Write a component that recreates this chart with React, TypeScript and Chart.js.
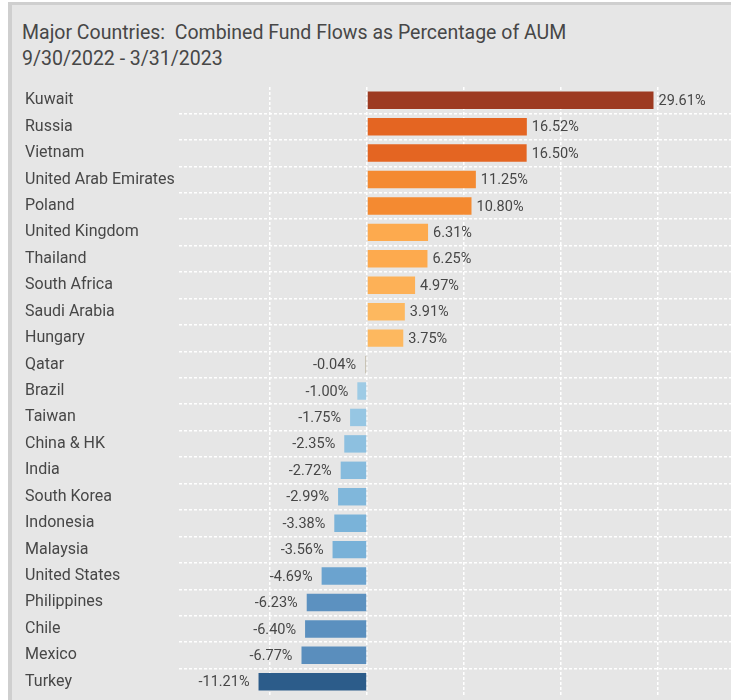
import React, { useEffect, useRef } from "react";
import { Chart, registerables } from "chart.js";

Chart.register(...registerables);

const countries = [
  "Kuwait", "Russia", "Vietnam", "United Arab Emirates", "Poland", "United Kingdom",
  "Thailand", "South Africa", "Saudi Arabia", "Hungary", "Qatar", "Brazil", "Taiwan",
  "China & HK", "India", "South Korea", "Indonesia", "Malaysia", "United States",
  "Philippines", "Chile", "Mexico", "Turkey",
];

const flows = [
  29.61, 16.52, 16.5, 11.25, 10.8, 6.31, 6.25, 4.97, 3.91, 3.75, -0.04, -1.0, -1.75,
  -2.35, -2.72, -2.99, -3.38, -3.56, -4.69, -6.23, -6.4, -6.77, -11.21,
];

const barColors = [
  "#9d3a21", "#e46522", "#e46522", "#f48a31", "#f48a31", "#fdaa4e", "#fdaa4e",
  "#fdb157", "#fdb85f", "#fdb85f", "#c8c3b5", "#9ecbe5", "#96c6e3", "#8dc0e0",
  "#86bbdd", "#80b7db", "#7ab3d9", "#78b1d8", "#6ba3cf", "#5c91c0", "#5b90bf",
  "#5a8ebd", "#2c5c8a",
];

const xTickValues = [-10, 0, 10, 20, 30];

const titleLines = [
  "Major Countries:  Combined Fund Flows as Percentage of AUM",
  "9/30/2022 - 3/31/2023",
];

const FONT = "Roboto, 'Noto Sans', sans-serif";
const TEXT = "#474747";

const valueLabels = {
  id: "valueLabels",
  afterDatasetsDraw(chart: any) {
    const ctx = chart.ctx;
    const meta = chart.getDatasetMeta(0);
    ctx.save();
    ctx.font = `14.5px ${FONT}`;
    ctx.fillStyle = TEXT;
    ctx.textBaseline = "middle";
    meta.data.forEach((el: any, i: number) => {
      const v = flows[i];
      const txt = v.toFixed(2) + "%";
      if (v >= 0) {
        ctx.textAlign = "left";
        ctx.fillText(txt, el.x + 5, el.y + 1);
      } else {
        ctx.textAlign = "right";
        ctx.fillText(txt, Math.min(el.x, el.base) - 9, el.y + 1);
      }
    });
    ctx.restore();
  },
};

export default function App() {
  const ref = useRef<HTMLCanvasElement | null>(null);

  useEffect(() => {
    if (!ref.current) return;
    const chart = new Chart(ref.current, {
      type: "bar",
      data: {
        labels: countries,
        datasets: [
          {
            data: flows,
            backgroundColor: barColors,
            borderWidth: 0,
            barPercentage: 0.66,
            categoryPercentage: 1,
            minBarLength: 2,
          },
        ],
      },
      options: {
        indexAxis: "y",
        animation: false,
        responsive: true,
        maintainAspectRatio: false,
        layout: { padding: { left: 13, top: 82, bottom: 5, right: 0 } },
        plugins: {
          legend: { display: false },
          tooltip: { enabled: false },
          title: { display: false },
        },
        scales: {
          x: {
            type: "linear",
            min: -19.43,
            max: 37.62,
            afterBuildTicks: (scale: any) => {
              scale.ticks = xTickValues.map((v) => ({ value: v }));
            },
            afterFit: (scale: any) => {
              scale.height = 0;
              scale.paddingLeft = 0;
              scale.paddingRight = 0;
            },
            ticks: { display: false },
            grid: { color: "#ffffff", lineWidth: 1.5, drawTicks: false },
            border: { display: false, dash: [3, 2] },
          },
          y: {
            type: "category",
            afterFit: (scale: any) => {
              scale.width = 154;
              scale.paddingTop = 0;
              scale.paddingBottom = 0;
            },
            ticks: {
              crossAlign: "far",
              autoSkip: false,
              color: TEXT,
              font: { family: FONT, size: 16 },
            },
            grid: {
              color: (c: any) =>
                typeof c.index === "number" && c.index > 0 && c.type === "tick"
                  ? "#ffffff"
                  : "rgba(0,0,0,0)",
              lineWidth: 1.5,
              drawTicks: false,
            },
            border: { display: false, dash: [3, 2] },
          },
        },
      },
      plugins: [valueLabels],
    });
    return () => chart.destroy();
  }, []);

  return (
    <div
      style={{
        position: "absolute",
        left: 8,
        top: 2,
        width: 723,
        height: 698,
        boxSizing: "border-box",
        background: "#e6e6e6",
        borderLeft: "4px solid #cfcfcf",
        borderTop: "3px solid #cfcfcf",
        overflow: "hidden",
      }}
    >
      {titleLines.map((t, i) => (
        <div
          key={i}
          style={{
            position: "absolute",
            left: 10,
            top: 15 + i * 26,
            height: 26,
            lineHeight: "26px",
            fontFamily: FONT,
            fontSize: 19.5,
            color: TEXT,
            whiteSpace: "pre",
          }}
        >
          {t}
        </div>
      ))}
      <div style={{ position: "absolute", left: 0, top: 0, width: 719, height: 695 }}>
        <canvas ref={ref} />
      </div>
    </div>
  );
}
